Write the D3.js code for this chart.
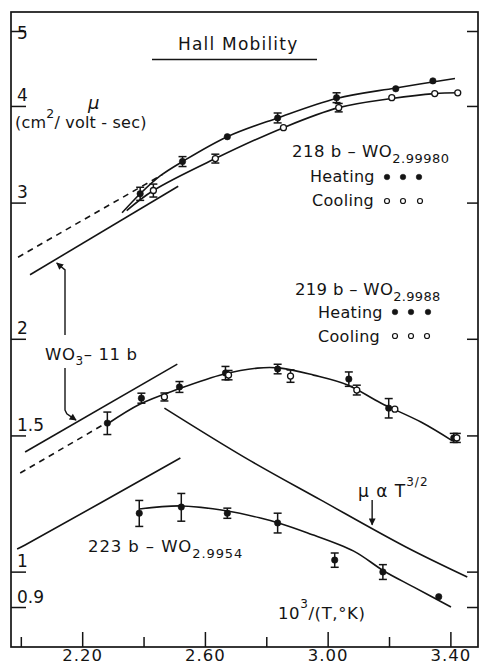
<!DOCTYPE html>
<html>
<head>
<meta charset="utf-8">
<title>Hall Mobility</title>
<script src="https://cdn.jsdelivr.net/npm/d3@7/dist/d3.min.js"></script>
<style>
  html, body { margin: 0; padding: 0; background: #fff; }
  svg { display: block; }
  text { font-family: "DejaVu Sans", "Liberation Sans", sans-serif; fill: #141414; }
</style>
</head>
<body>
<svg id="chart" width="480" height="665"></svg>
<script>
// ---- axis ticks ----
const xMajorTicks = [2.2, 2.6, 3.0, 3.4];
const xMajorLabels = ["2.20", "2.60", "3.00", "3.40"];
const xMinorTicks = [2.0, 2.4, 2.8, 3.2];
const yTickValues = [0.9, 1, 1.5, 2, 3, 4, 5];
const yTickLabels = ["0.9", "1", "1.5", "2", "3", "4", "5"];

// ---- 218b - WO2.99980 : measured points (x = 10^3/T, y = mobility) ----
const s218HeatX   = [2.389, 2.527, 2.673, 2.837, 3.029, 3.222, 3.343];
const s218HeatY   = [3.08, 3.39, 3.65, 3.86, 4.10, 4.21, 4.31];
const s218HeatErr = [0.06, 0.05, 0, 0.057, 0.06, 0, 0];
const s218CoolX   = [2.432, 2.634, 2.856, 3.036, 3.209, 3.349, 3.424];
const s218CoolY   = [3.11, 3.42, 3.75, 3.98, 4.10, 4.15, 4.16];
const s218CoolErr = [0.06, 0.045, 0, 0.05, 0, 0, 0];
// fitted curves
const fit218HeatX = [2.330, 2.389, 2.455, 2.527, 2.673, 2.837, 3.029, 3.222, 3.415];
const fit218HeatY = [2.91, 3.08, 3.25, 3.39, 3.65, 3.86, 4.09, 4.22, 4.34];
const fit218CoolX = [2.345, 2.432, 2.634, 2.856, 3.036, 3.209, 3.349, 3.424];
const fit218CoolY = [2.93, 3.11, 3.42, 3.75, 3.98, 4.09, 4.15, 4.16];

// ---- 219b - WO2.9988 ----
const s219HeatX   = [2.282, 2.393, 2.517, 2.667, 2.837, 3.069, 3.199, 3.411];
const s219HeatY   = [1.556, 1.676, 1.733, 1.806, 1.828, 1.774, 1.627, 1.489];
const s219HeatErr = [0.052, 0.025, 0.028, 0.036, 0.026, 0.038, 0.047, 0.02];
const s219CoolX   = [2.468, 2.677, 2.879, 3.095, 3.219, 3.421];
const s219CoolY   = [1.682, 1.795, 1.790, 1.717, 1.622, 1.489];
const s219CoolErr = [0.02, 0.025, 0.033, 0.025, 0, 0.02];
const fit219X = [2.282, 2.389, 2.513, 2.660, 2.771, 2.847, 2.954, 3.065, 3.173, 3.304, 3.408];
const fit219Y = [1.552, 1.647, 1.722, 1.800, 1.833, 1.833, 1.795, 1.743, 1.652, 1.561, 1.475];

// ---- 223b - WO2.9954 ----
const s223X   = [2.386, 2.523, 2.673, 2.837, 3.023, 3.180, 3.362];
const s223Y   = [1.190, 1.212, 1.190, 1.156, 1.035, 0.999, 0.928];
const s223Err = [0.046, 0.05, 0.018, 0.034, 0.022, 0.022, 0];
const fit223X = [2.386, 2.523, 2.673, 2.781, 2.840, 2.935, 3.085, 3.183, 3.281, 3.402];
const fit223Y = [1.205, 1.216, 1.198, 1.173, 1.156, 1.122, 1.063, 1.002, 0.955, 0.900];

// ---- WO3 - 11b reference lines ----
const wo3UpperDashX  = [1.991, 2.461];
const wo3UpperDashY  = [2.55, 3.26];
const wo3UpperSolidX = [2.030, 2.513];
const wo3UpperSolidY = [2.42, 3.15];
const wo3LowerSolidX = [2.014, 2.510];
const wo3LowerSolidY = [1.428, 1.855];
const wo3LowerDashX  = [1.998, 2.268];
const wo3LowerDashY  = [1.341, 1.548];
const wo3ThirdX      = [1.988, 2.014, 2.520];
const wo3ThirdY      = [1.0695, 1.0825, 1.4025];

// ---- mu ~ T^(3/2) curve ----
const tLawX = [2.468, 2.732, 2.977, 3.255, 3.455];
const tLawY = [1.627, 1.403, 1.238, 1.076, 0.984];

// ---------------------------------------------------------------
const svg = d3.select("#chart");
const ink = "#141414";
const frame = { left: 11, right: 478, top: 12, bottom: 647 };

const x = d3.scaleLinear().domain([1.968, 3.490]).range([frame.left, frame.right]);
const y = d3.scaleLog().domain([0.799, 5.291]).range([frame.bottom, frame.top]);

// arrowhead
svg.append("defs").append("marker")
  .attr("id", "head").attr("viewBox", "0 0 10 10")
  .attr("refX", 9).attr("refY", 5)
  .attr("markerWidth", 8).attr("markerHeight", 7)
  .attr("markerUnits", "userSpaceOnUse")
  .attr("orient", "auto")
  .append("path").attr("d", "M0,0 L10,5 L0,10 Z").attr("fill", ink);

// frame
svg.append("rect")
  .attr("x", frame.left).attr("y", frame.top)
  .attr("width", frame.right - frame.left).attr("height", frame.bottom - frame.top)
  .attr("fill", "none").attr("stroke", ink).attr("stroke-width", 1.7);

// bottom axis: inward ticks
const gx = svg.append("g").attr("transform", `translate(0,${frame.bottom})`);
gx.append("g").call(d3.axisBottom(x).tickValues(xMinorTicks).tickSize(-10).tickFormat(""));
gx.append("g").call(
  d3.axisBottom(x).tickValues(xMajorTicks).tickSize(-15).tickPadding(2)
    .tickFormat(d => xMajorLabels[xMajorTicks.indexOf(d)])
);
gx.selectAll(".domain").remove();
gx.selectAll("line").attr("stroke", ink).attr("stroke-width", 1.5);
gx.selectAll("text")
  .attr("font-size", 16.5).attr("letter-spacing", 1)
  .attr("font-family", "DejaVu Sans").attr("fill", ink);

// left axis: inward ticks, labels sit inside the frame
const yTop = d3.max(yTickValues);
const gy = svg.append("g").attr("transform", `translate(${frame.left},0)`);
gy.call(d3.axisLeft(y).tickValues(yTickValues).tickSize(-15)
  .tickFormat(d => yTickLabels[yTickValues.indexOf(d)]));
gy.select(".domain").remove();
gy.selectAll("line").attr("stroke", ink).attr("stroke-width", 1.5);
gy.selectAll("text")
  .attr("x", 6).attr("dy", d => d === yTop ? 7 : -5)
  .attr("text-anchor", "start")
  .attr("font-size", 17).attr("font-family", "DejaVu Sans").attr("fill", ink);

// right axis: inward ticks only
const gr = svg.append("g").attr("transform", `translate(${frame.right},0)`);
gr.call(d3.axisRight(y).tickValues(yTickValues).tickSize(-11).tickFormat(""));
gr.select(".domain").remove();
gr.selectAll("line").attr("stroke", ink).attr("stroke-width", 1.5);

// ---- lines ----
const lineGen = d3.line().x(d => x(d[0])).y(d => y(d[1])).curve(d3.curveCatmullRom.alpha(0.5));
function drawLine(xs, ys, dashed) {
  const pts = xs.map((v, i) => [v, ys[i]]);
  svg.append("path")
    .attr("d", lineGen(pts))
    .attr("fill", "none").attr("stroke", ink).attr("stroke-width", 1.6)
    .attr("stroke-dasharray", dashed ? "6,5" : null);
}

drawLine(wo3UpperDashX, wo3UpperDashY, true);
drawLine(wo3UpperSolidX, wo3UpperSolidY, false);
drawLine(wo3LowerSolidX, wo3LowerSolidY, false);
drawLine(wo3LowerDashX, wo3LowerDashY, true);
drawLine(wo3ThirdX, wo3ThirdY, false);
drawLine(tLawX, tLawY, false);
drawLine(fit218HeatX, fit218HeatY, false);
drawLine(fit218CoolX, fit218CoolY, false);
drawLine(fit219X, fit219Y, false);
drawLine(fit223X, fit223Y, false);

// ---- points with error bars ----
function drawPoints(xs, ys, errs, filled) {
  const pts = xs.map((v, i) => ({ x: v, y: ys[i], e: errs[i] }));
  const g = svg.append("g").attr("stroke", ink).attr("stroke-width", 1.5);
  const withErr = pts.filter(p => p.e > 0);
  g.selectAll("line.bar").data(withErr).join("line").attr("class", "bar")
    .attr("x1", p => x(p.x)).attr("x2", p => x(p.x))
    .attr("y1", p => y(p.y - p.e)).attr("y2", p => y(p.y + p.e));
  g.selectAll("line.capLo").data(withErr).join("line").attr("class", "capLo")
    .attr("x1", p => x(p.x) - 4).attr("x2", p => x(p.x) + 4)
    .attr("y1", p => y(p.y - p.e)).attr("y2", p => y(p.y - p.e));
  g.selectAll("line.capHi").data(withErr).join("line").attr("class", "capHi")
    .attr("x1", p => x(p.x) - 4).attr("x2", p => x(p.x) + 4)
    .attr("y1", p => y(p.y + p.e)).attr("y2", p => y(p.y + p.e));
  g.selectAll("circle").data(pts).join("circle")
    .attr("cx", p => x(p.x)).attr("cy", p => y(p.y))
    .attr("r", filled ? 3.2 : 3)
    .attr("fill", filled ? ink : "#fff")
    .attr("stroke-width", filled ? 0.6 : 1.3);
}

drawPoints(s218HeatX, s218HeatY, s218HeatErr, true);
drawPoints(s218CoolX, s218CoolY, s218CoolErr, false);
drawPoints(s219HeatX, s219HeatY, s219HeatErr, true);
drawPoints(s219CoolX, s219CoolY, s219CoolErr, false);
drawPoints(s223X, s223Y, s223Err, true);

// ---- annotation arrows (data coordinates) ----
function arrow(pts) {
  svg.append("path")
    .attr("d", d3.line().x(d => x(d[0])).y(d => y(d[1])).curve(d3.curveLinear)(pts))
    .attr("fill", "none").attr("stroke", ink).attr("stroke-width", 1.4)
    .attr("marker-end", "url(#head)");
}
arrow([[2.144, 2.023], [2.144, 2.455], [2.117, 2.506]]);
arrow([[2.144, 1.833], [2.144, 1.618], [2.150, 1.600], [2.180, 1.570]]);
arrow([[3.145, 1.2376], [3.145, 1.150]]);

// ---- text ----
function txt(px, py, size, str, opts = {}) {
  const t = svg.append("text").attr("x", px).attr("y", py)
    .attr("font-size", size).attr("letter-spacing", opts.ls ?? 1);
  if (opts.italic) t.attr("font-style", "italic");
  return t.text(str);
}
function sub(t, str, size, dy) {
  t.append("tspan").attr("font-size", size).attr("dy", dy).text(str);
  return t;
}

// title
txt(178, 50, 17, "Hall Mobility", { ls: 1.2 });
svg.append("line").attr("x1", 152).attr("x2", 317).attr("y1", 59.5).attr("y2", 59.5)
  .attr("stroke", ink).attr("stroke-width", 1.5);

// y-axis title
txt(88, 109, 18, "\u03bc", { italic: true });
{
  const t = txt(15, 128, 16, "(cm", { ls: 0.2 });
  t.append("tspan").attr("font-size", 12.5).attr("dy", -10).text("2");
  t.append("tspan").attr("dy", 10).text("/ volt - sec)");
}

// 218b label and legend
{
  const t = txt(292, 157, 16.5, "218 b \u2013 WO", { ls: 0.5 });
  sub(t, "2.99980", 13, 6);
  txt(310, 182, 16, "Heating", { ls: 0.3 });
  txt(312, 206, 16, "Cooling", { ls: 0.3 });
}
// 219b label and legend
{
  const t = txt(295, 295, 16.5, "219 b \u2013 WO", { ls: 0.3 });
  sub(t, "2.9988", 13, 6);
  txt(318, 318, 16, "Heating", { ls: 0.3 });
  txt(318, 342, 16, "Cooling", { ls: 0.3 });
}
// legend markers
function legendDots(xs, cy, filled) {
  svg.append("g").selectAll("circle").data(xs).join("circle")
    .attr("cx", d => d).attr("cy", cy).attr("r", filled ? 2.8 : 2.5)
    .attr("fill", filled ? ink : "#fff").attr("stroke", ink)
    .attr("stroke-width", filled ? 0.5 : 1.2);
}
legendDots([387, 403, 419], 177, true);
legendDots([387, 403, 420], 201, false);
legendDots([395, 411, 428], 312, true);
legendDots([395, 411, 427], 336, false);

// WO3 - 11b
{
  const t = txt(45, 360, 16.5, "WO", { ls: 0.6 });
  sub(t, "3", 12, 5);
  t.append("tspan").attr("dy", -5).text("\u2013 11 b");
}

// mu ~ T^(3/2)
{
  const t = txt(358, 497, 17, "\u03bc \u03b1 T", { ls: 1 });
  t.append("tspan").attr("font-size", 12).attr("dy", -11).text("3/2");
}

// 223b label
{
  const t = txt(88, 552, 16.5, "223 b \u2013 WO", { ls: 0.9 });
  sub(t, "2.9954", 13, 6);
}

// x-axis title
{
  const t = txt(278, 619, 16.5, "10", { ls: 0.6 });
  t.append("tspan").attr("font-size", 12).attr("dy", -11).text("3");
  t.append("tspan").attr("dy", 11).text("/(T,\u00b0K)");
}
</script>
</body>
</html>
